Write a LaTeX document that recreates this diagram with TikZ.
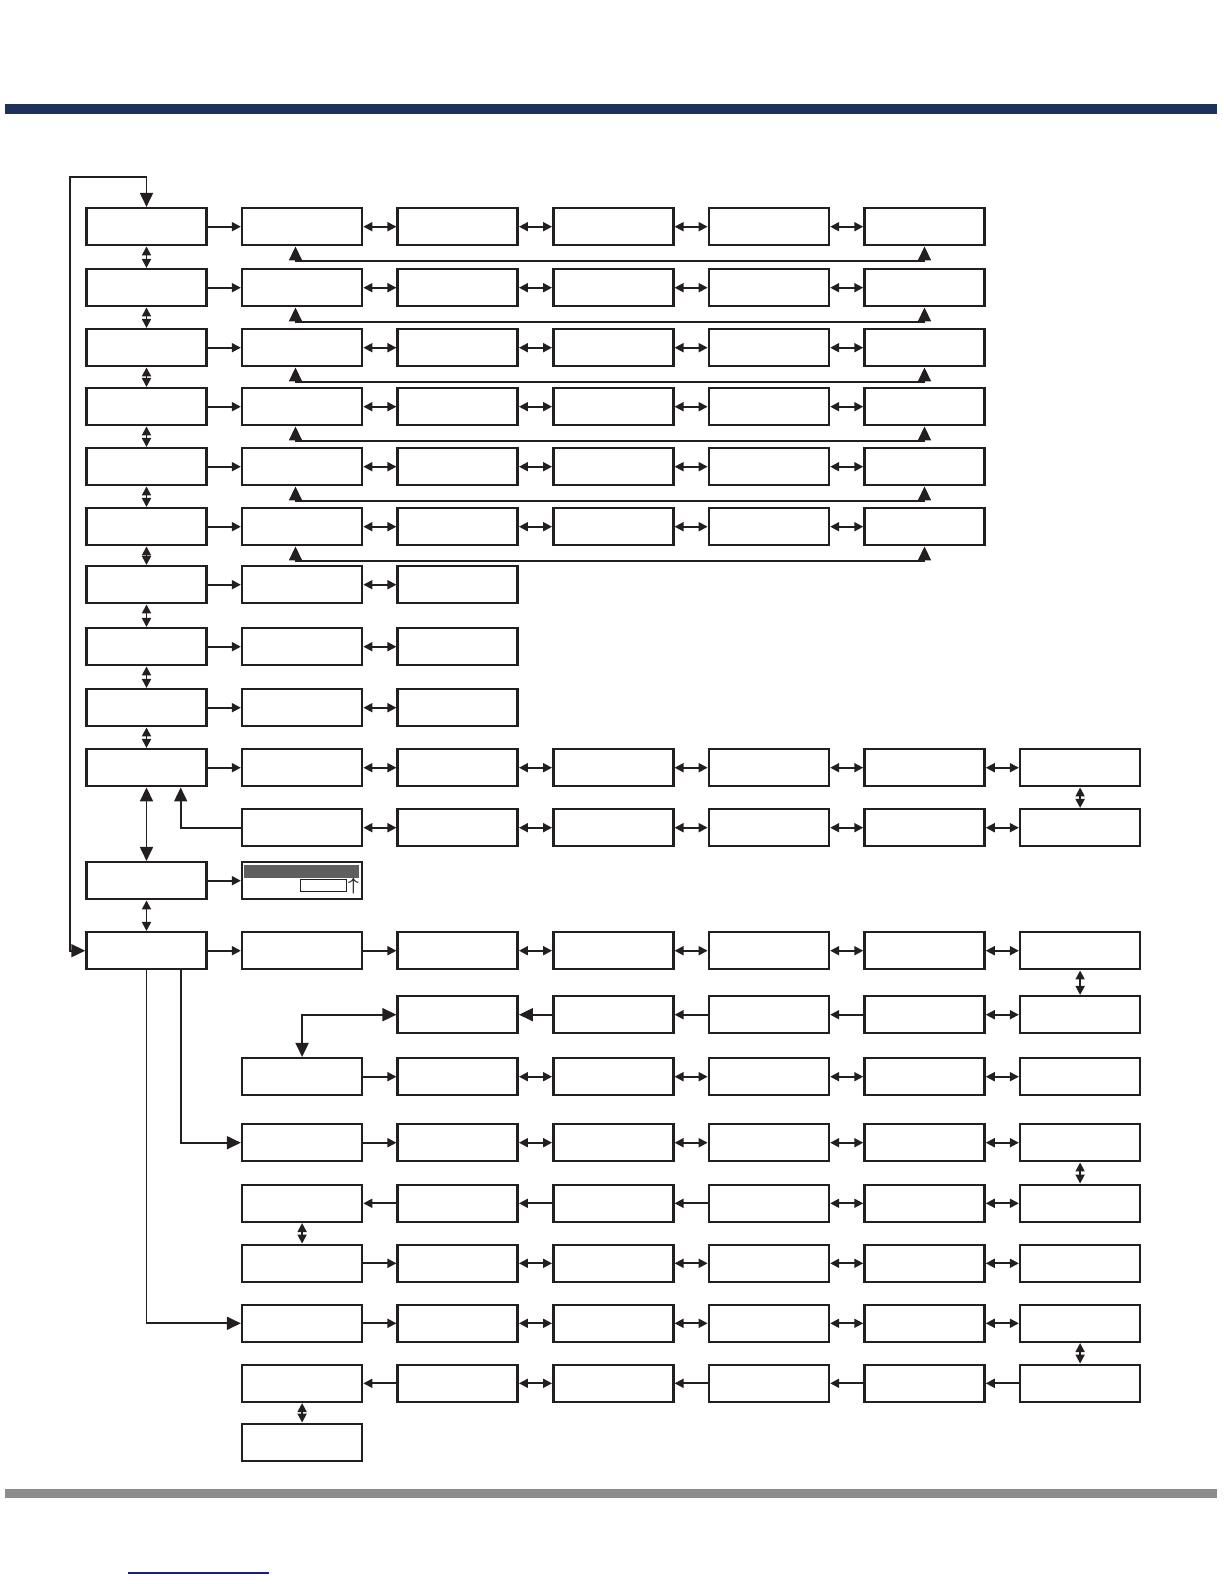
\documentclass[tikz,border=0pt]{standalone}
\usetikzlibrary{arrows.meta}
\definecolor{navy}{HTML}{1D315A}
\definecolor{ink}{HTML}{231F20}
\definecolor{barg}{HTML}{8C8C8C}
\definecolor{lcdg}{HTML}{5F5F5F}
\definecolor{linkb}{HTML}{1A1A8C}
\begin{document}
\begin{tikzpicture}[x=0.5pt,y=-0.5pt,
  box/.style={draw=ink,fill=white,line width=1.25pt,minimum width=60pt,minimum height=18.5pt,inner sep=0pt},
  con/.style={draw=ink,line width=0.9pt},
  sa/.style={con,-{Triangle[length=4.5pt,width=4.5pt]}},
  da/.style={con,{Triangle[length=4.5pt,width=4.5pt]}-{Triangle[length=4.5pt,width=4.5pt]}},
  ba/.style={con,-{Triangle[length=7pt,width=6.5pt]}},
  dba/.style={con,{Triangle[length=7pt,width=6.5pt]}-{Triangle[length=7pt,width=6.5pt]}},
]
\useasboundingbox (0,0) rectangle (1224,1584);
\fill[navy] (5,104) rectangle (1217,114);
\fill[barg] (5,1488.5) rectangle (1217,1498);
\coordinate (ul1) at (128,1573);
\coordinate (ul2) at (268.5,1573);
\draw[linkb,line width=0.75pt] (ul1) -- (ul2);

% boxes
\foreach \r/\y/\cols in {
0/226.7/{0,1,2,3,4,5},
1/287.7/{0,1,2,3,4,5},
2/347.7/{0,1,2,3,4,5},
3/406.7/{0,1,2,3,4,5},
4/466.7/{0,1,2,3,4,5},
5/526.7/{0,1,2,3,4,5},
6/584.7/{0,1,2},
7/646.7/{0,1,2},
8/707.7/{0,1,2},
9/767.7/{0,1,2,3,4,5,6},
10/827.7/{1,2,3,4,5,6},
11/880.7/{0,1},
12/950.7/{0,1,2,3,4,5,6},
13/1014.7/{2,3,4,5,6},
14/1076.7/{1,2,3,4,5,6},
15/1142.7/{1,2,3,4,5,6},
16/1203.3/{1,2,3,4,5,6},
17/1263.3/{1,2,3,4,5,6},
18/1323.3/{1,2,3,4,5,6},
19/1383.3/{1,2,3,4,5,6},
20/1442.3/{1}}
{\foreach \c in \cols {\node[box] (b\r-\c) at ({146.5+155.6*\c},\y) {};}}

% special display box content
\fill[lcdg] (244,865) rectangle (359,877.7);
\node[draw=ink,fill=white,line width=0.5pt,minimum width=23pt,minimum height=6pt,inner sep=0pt] (lcdbox) at (323.3,885.5) {};
\node[inner sep=0pt,font=\fontsize{9}{9}\selectfont\boldmath,text=ink] (lcdup) at (353.5,886) {$\uparrow$};

% top loop
\coordinate (tl) at (70.3,176.7);
\draw[dba] (b0-0.north) |- (tl) |- (b12-0.west);

% rows 0-5
\foreach \r in {0,...,5}{
  \draw[sa] (b\r-0) -- (b\r-1);
  \foreach \p/\q in {1/2,2/3,3/4,4/5} {\draw[da] (b\r-\p) -- (b\r-\q);}
  \draw[dba] ([xshift=-3.3pt]b\r-1.south) -- ++(0,14.7) -| (b\r-5.south);
}
% rows 6-8
\foreach \r in {6,7,8}{
  \draw[sa] (b\r-0) -- (b\r-1);
  \draw[da] (b\r-1) -- (b\r-2);
}
% column 0 verticals
\foreach \r/\s in {0/1,1/2,2/3,3/4,4/5,5/6,6/7,7/8,8/9,11/12}{
  \draw[da] (b\r-0) -- (b\s-0);
}
\draw[dba] (b9-0) -- (b11-0);

% rows 9-10
\draw[sa] (b9-0) -- (b9-1);
\foreach \p/\q in {1/2,2/3,3/4,4/5,5/6} {\draw[da] (b9-\p) -- (b9-\q); \draw[da] (b10-\p) -- (b10-\q);}
\draw[da] (b9-6) -- (b10-6);
\draw[ba] (b10-1.west) -| ([xshift=17.1pt]b9-0.south);

% row 11
\draw[sa] (b11-0) -- (b11-1);

% row 12
\draw[sa] (b12-0) -- (b12-1);
\draw[sa] (b12-1) -- (b12-2);
\foreach \p/\q in {2/3,3/4,4/5,5/6} {\draw[da] (b12-\p) -- (b12-\q);}
\draw[da] (b12-6) -- (b13-6);

% row 13
\draw[da] (b13-5) -- (b13-6);
\draw[sa] (b13-5) -- (b13-4);
\draw[sa] (b13-4) -- (b13-3);
\draw[ba] (b13-3) -- (b13-2);
\draw[dba] (b13-2.west) -| (b14-1.north);

% rows 14, 15, 17, 18
\foreach \r in {14,15,17,18}{
  \draw[sa] (b\r-1) -- (b\r-2);
  \foreach \p/\q in {2/3,3/4,4/5,5/6} {\draw[da] (b\r-\p) -- (b\r-\q);}
}
\draw[da] (b15-6) -- (b16-6);
\draw[da] (b18-6) -- (b19-6);
\draw[ba] ([xshift=17.25pt]b12-0.south) |- (b15-1.west);
\draw[ba] (b12-0.south) |- (b18-1.west);

% row 16
\draw[sa] (b16-2) -- (b16-1);
\draw[sa] (b16-3) -- (b16-2);
\draw[sa] (b16-4) -- (b16-3);
\draw[da] (b16-4) -- (b16-5);
\draw[da] (b16-5) -- (b16-6);
\draw[da] (b16-1) -- (b17-1);

% row 19
\draw[sa] (b19-6) -- (b19-5);
\draw[sa] (b19-5) -- (b19-4);
\draw[sa] (b19-4) -- (b19-3);
\draw[da] (b19-2) -- (b19-3);
\draw[sa] (b19-2) -- (b19-1);
\draw[da] (b19-1) -- (b20-1);
\end{tikzpicture}
\end{document}
